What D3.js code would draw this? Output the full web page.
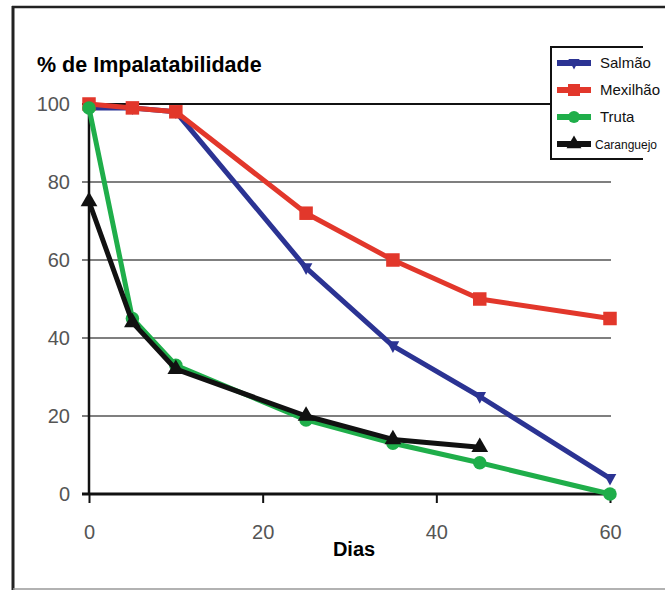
<!DOCTYPE html>
<html>
<head>
<meta charset="utf-8">
<script src="https://cdn.jsdelivr.net/npm/d3@7"></script>
<style>
  body { margin: 0; background: #fff; }
  text { font-family: "Liberation Sans", Arial, sans-serif; }
</style>
</head>
<body>
<svg width="665" height="590"></svg>
<script>
// data
var dias = [0, 5, 10, 25, 35, 45, 60];
var salmao = [99, 99, 98, 58, 38, 25, 4];
var mexilhao = [100, 99, 98, 72, 60, 50, 45];
var truta = [99, 45, 33, 19, 13, 8, 0];
var diasCaranguejo = [0, 5, 10, 25, 35, 45];
var caranguejo = [75, 44, 32, 20, 14, 12];
var xTicks = [0, 20, 40, 60];
var yTicks = [0, 20, 40, 60, 80, 100];
var seriesNames = ["Salmão", "Mexilhão", "Truta", "Caranguejo"];

var series = [
  { name: seriesNames[0], xs: dias, ys: salmao, color: "#2b3393", marker: "diamond" },
  { name: seriesNames[1], xs: dias, ys: mexilhao, color: "#e2372b", marker: "square" },
  { name: seriesNames[2], xs: dias, ys: truta, color: "#1fae4a", marker: "circle" },
  { name: seriesNames[3], xs: diasCaranguejo, ys: caranguejo, color: "#111111", marker: "triangle" }
];

var svg = d3.select("svg");

var x = d3.scaleLinear().domain([0, 60]).range([89, 610]);
var y = d3.scaleLinear().domain([0, 100]).range([494, 104]);

// outer frame
svg.append("line").attr("x1", 13).attr("x2", 13).attr("y1", 6).attr("y2", 590)
  .attr("stroke", "#222").attr("stroke-width", 3);
svg.append("line").attr("x1", 12).attr("x2", 665).attr("y1", 7).attr("y2", 7)
  .attr("stroke", "#222").attr("stroke-width", 2.5);
svg.append("line").attr("x1", 13).attr("x2", 665).attr("y1", 589).attr("y2", 589)
  .attr("stroke", "#999").attr("stroke-width", 1.5);

// grid lines
svg.append("g").selectAll("line")
  .data(yTicks.filter(function(d) { return d > 0; }))
  .enter().append("line")
    .attr("x1", 82).attr("x2", 611)
    .attr("y1", function(d) { return y(d); })
    .attr("y2", function(d) { return y(d); })
    .attr("stroke", function(d) { return d === 100 ? "#111" : "#555"; })
    .attr("stroke-width", function(d) { return d === 100 ? 2 : 1.5; });

// axes
var xAxis = d3.axisBottom(x).tickValues(xTicks).tickSize(9).tickPadding(22);
var gx = svg.append("g").attr("transform", "translate(0," + y(0) + ")").call(xAxis);
gx.select(".domain").attr("stroke", "#111").attr("stroke-width", 3).attr("d", "M82,0H611");
gx.selectAll(".tick line").attr("stroke", "#111").attr("stroke-width", 2);
gx.selectAll(".tick text").attr("fill", "#555").attr("font-size", 20)
  .attr("font-family", "DejaVu Sans, sans-serif");

var yAxis = d3.axisLeft(y).tickValues(yTicks).tickSize(0).tickPadding(19);
var gy = svg.append("g").attr("transform", "translate(" + x(0) + ",0)").call(yAxis);
gy.select(".domain").attr("stroke", "#111").attr("stroke-width", 2.5).attr("d", "M0,104V494");
gy.selectAll(".tick text").attr("fill", "#555").attr("font-size", 20)
  .attr("font-family", "DejaVu Sans, sans-serif");

// titles
svg.append("text").attr("x", 37).attr("y", 72)
  .attr("font-size", 21.5).attr("font-weight", "bold").attr("fill", "#000")
  .text("% de Impalatabilidade");
svg.append("text").attr("x", 354).attr("y", 556).attr("text-anchor", "middle")
  .attr("font-size", 20).attr("font-weight", "bold").attr("fill", "#000")
  .text("Dias");

function drawMarker(g, type, color, cx, cy, s) {
  if (type === "square") {
    g.append("rect").attr("x", cx - s * 0.75).attr("y", cy - s * 0.75)
      .attr("width", s * 1.5).attr("height", s * 1.5).attr("fill", color);
  } else if (type === "circle") {
    g.append("circle").attr("cx", cx).attr("cy", cy).attr("r", s * 0.75).attr("fill", color);
  } else if (type === "triangle") {
    g.append("path").attr("fill", color)
      .attr("d", d3.symbol().type(d3.symbolTriangle).size(s * s * 1.5)())
      .attr("transform", "translate(" + cx + "," + cy + ")");
  } else {
    g.append("path").attr("fill", color)
      .attr("d", "M" + (-s * 0.7) + "," + (-s * 0.5) + "L" + (s * 0.7) + "," + (-s * 0.5) + "L0," + (s * 0.8) + "Z")
      .attr("transform", "translate(" + cx + "," + cy + ")");
  }
}

var line = d3.line();

series.forEach(function(s) {
  var pts = s.xs.map(function(d, i) { return [x(d), y(s.ys[i])]; });
  var g = svg.append("g");
  g.append("path").attr("d", line(pts)).attr("fill", "none")
    .attr("stroke", s.color).attr("stroke-width", 5).attr("stroke-linejoin", "round");
  pts.forEach(function(p) { drawMarker(g, s.marker, s.color, p[0], p[1], 9); });
});

// legend (box open on the right, text runs past it)
var lg = svg.append("g");
lg.append("rect").attr("x", 551).attr("y", 47).attr("width", 114).attr("height", 112)
  .attr("fill", "#fff");
lg.append("path").attr("d", "M643,47H551V159H643").attr("fill", "none")
  .attr("stroke", "#111").attr("stroke-width", 2);
var legendY = d3.scalePoint().domain(seriesNames).range([63, 144]);
series.forEach(function(s, i) {
  var ly = legendY(s.name);
  lg.append("line").attr("x1", 557).attr("x2", 591).attr("y1", ly).attr("y2", ly)
    .attr("stroke", s.color).attr("stroke-width", 6);
  drawMarker(lg, s.marker, s.color, 574, ly, 8);
  lg.append("text").attr("x", i === 3 ? 595 : 600).attr("y", ly + 5)
    .attr("font-size", i === 3 ? 12 : 15).attr("fill", "#111").text(s.name);
});
</script>
</body>
</html>
